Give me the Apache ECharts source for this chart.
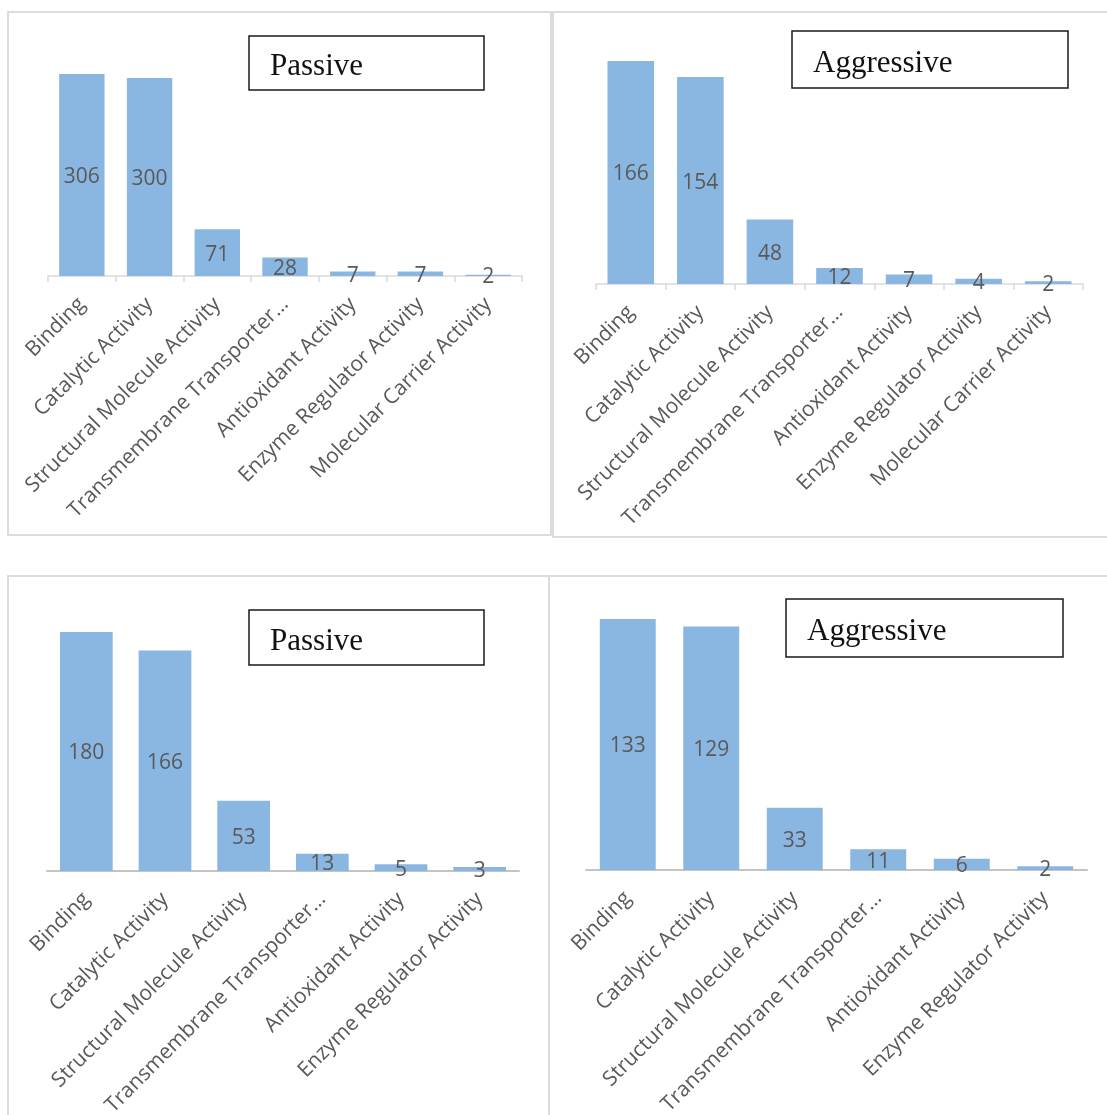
<!DOCTYPE html>
<html>
<head>
<meta charset="utf-8">
<script src="https://cdn.jsdelivr.net/npm/echarts@6/dist/echarts.min.js"></script>
<style>
html,body{margin:0;padding:0;background:#fff;}
#c{width:1107px;height:1115px;}
</style>
</head>
<body>
<div id="c"></div>
<script>
// ---- data ----
const categories7 = ["Binding", "Catalytic Activity", "Structural Molecule Activity", "Transmembrane Transporter…", "Antioxidant Activity", "Enzyme Regulator Activity", "Molecular Carrier Activity"];
const categories6 = ["Binding", "Catalytic Activity", "Structural Molecule Activity", "Transmembrane Transporter…", "Antioxidant Activity", "Enzyme Regulator Activity"];
const passiveTop = [306, 300, 71, 28, 7, 7, 2];
const aggressiveTop = [166, 154, 48, 12, 7, 4, 2];
const passiveBottom = [180, 166, 53, 13, 5, 3];
const aggressiveBottom = [133, 129, 33, 11, 6, 2];
const panelTitles = ["Passive", "Aggressive", "Passive", "Aggressive"];

const chart = echarts.init(document.getElementById('c'), null, {renderer: 'canvas'});

const BAR = '#8ab6e2';
const LABEL = '#595959';

const grids = [
  {left: 48, width: 474, top: 74, height: 202},
  {left: 596, width: 487, top: 61, height: 223},
  {left: 47, width: 472, top: 632, height: 239},
  {left: 586, width: 501, top: 619, height: 251}
];
const yMax = [306, 166, 180, 133];
const cats = [categories7, categories7, categories6, categories6];
const vals = [passiveTop, aggressiveTop, passiveBottom, aggressiveBottom];

const xAxes = cats.map((c, i) => ({
  type: 'category', gridIndex: i, data: c,
  axisLine: {show: true, lineStyle: {color: i < 2 ? '#d9d9d9' : '#c4c4c4', width: i < 2 ? 1.5 : 2}},
  axisTick: {show: i < 2, length: 6, lineStyle: {color: '#d9d9d9', width: 1.5}},
  axisLabel: {rotate: 45, interval: 0, color: LABEL, fontFamily: 'Open Sans', fontSize: 21, margin: 25}
}));
const yAxes = yMax.map((m, i) => ({
  type: 'value', gridIndex: i, min: 0, max: m, show: false, splitLine: {show: false}
}));
const series = vals.map((v, i) => ({
  type: 'bar', xAxisIndex: i, yAxisIndex: i, data: v,
  barCategoryGap: '33%',
  itemStyle: {color: BAR},
  label: {show: true, position: 'inside', offset: [0, 2], color: LABEL, fontFamily: 'Open Sans', fontSize: 21},
  silent: true, animation: false
}));

const panels = [
  {x: 8, y: 12, w: 543, h: 523},
  {x: 553, y: 12, w: 570, h: 525},
  {x: 8, y: 576, w: 541, h: 560},
  {x: 549, y: 576, w: 580, h: 560}
];
const boxes = [
  {x: 249, y: 36, w: 235, h: 54},
  {x: 792, y: 31, w: 276, h: 57},
  {x: 249, y: 610, w: 235, h: 55},
  {x: 786, y: 599, w: 277, h: 58}
];

const graphic = [];
panels.forEach(p => graphic.push({
  type: 'rect', z: -10, silent: true,
  shape: {x: p.x, y: p.y, width: p.w, height: p.h},
  style: {fill: 'none', stroke: '#dcdcdc', lineWidth: 2}
}));
boxes.forEach((b, i) => {
  graphic.push({
    type: 'rect', z: 10, silent: true,
    shape: {x: b.x, y: b.y, width: b.w, height: b.h},
    style: {fill: '#fff', stroke: '#1a1a1a', lineWidth: 1.5}
  });
  graphic.push({
    type: 'text', z: 11, silent: true, x: b.x + 21, y: b.y + b.h / 2 + 4,
    style: {text: panelTitles[i], fill: '#111', font: '31px "Liberation Serif"', textVerticalAlign: 'middle', verticalAlign: 'middle'}
  });
});

chart.setOption({
  animation: false,
  grid: grids.map(g => Object.assign({containLabel: false, outerBoundsMode: 'none'}, g)),
  xAxis: xAxes,
  yAxis: yAxes,
  series: series,
  graphic: graphic
});
</script>
</body>
</html>
